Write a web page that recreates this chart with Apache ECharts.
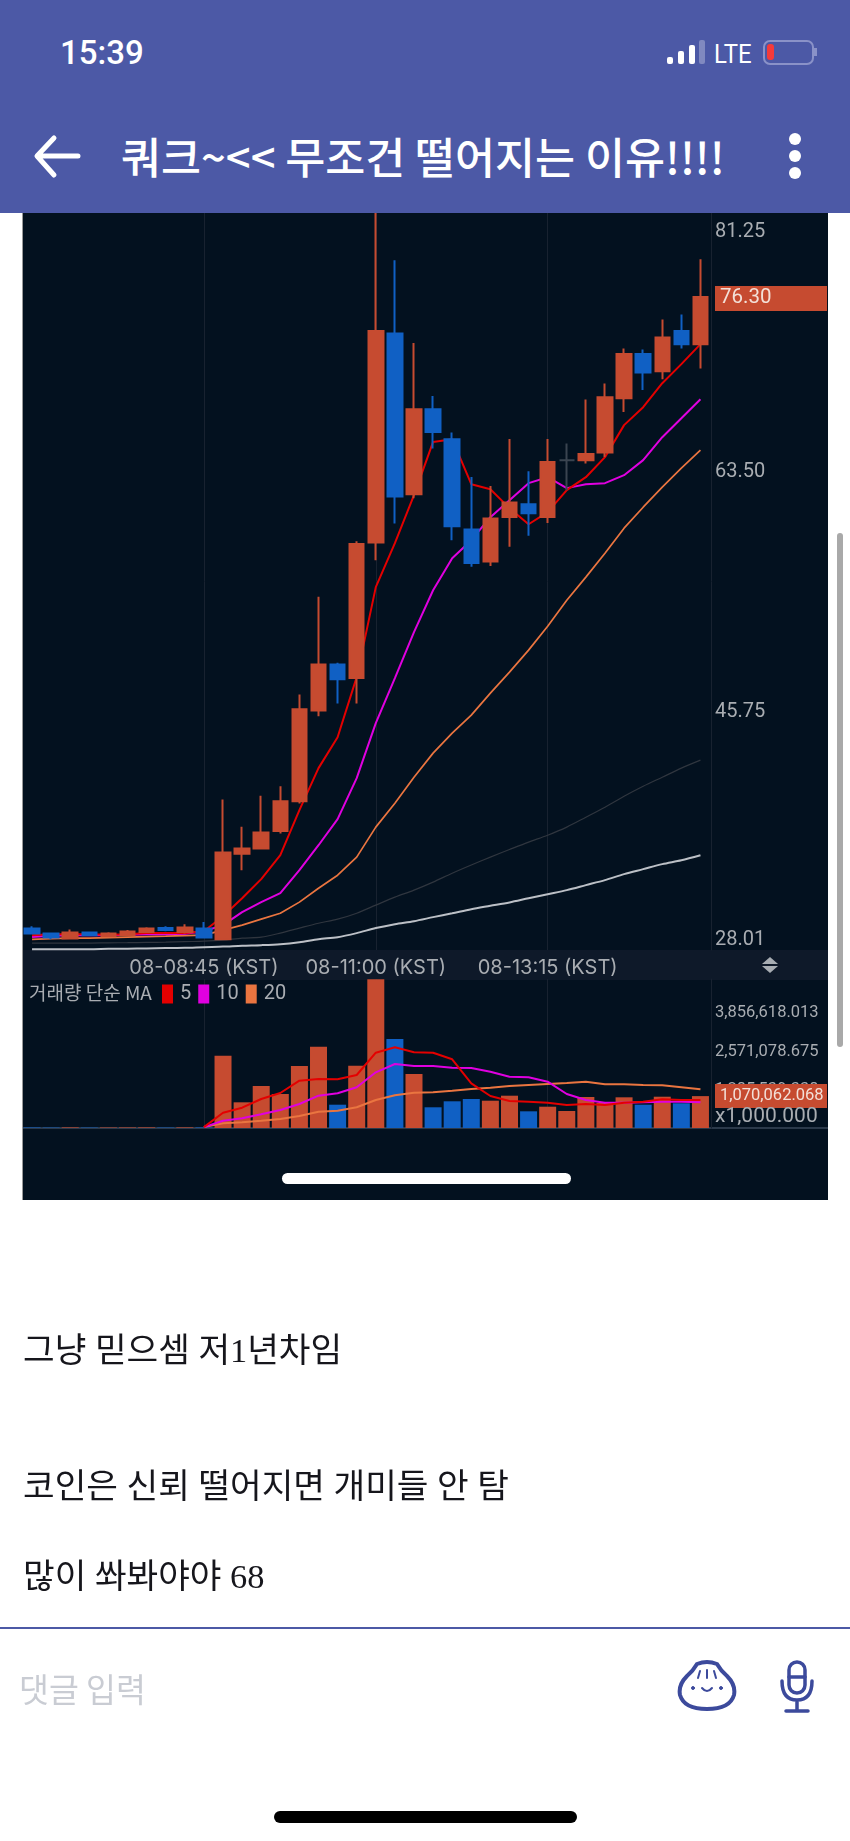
<!DOCTYPE html>
<html>
<head>
<meta charset="utf-8">
<script src="https://cdn.jsdelivr.net/npm/echarts@6/dist/echarts.min.js"></script>
<style>
html, body { margin: 0; padding: 0; background: #fff; }
#page { position: relative; width: 850px; height: 1841px; overflow: hidden; font-family: "Noto Sans CJK KR", sans-serif; }
#page div, #page svg { position: absolute; }
.t { white-space: nowrap; transform: translateY(-50%); }
.post { font-family: "Liberation Serif", "Noto Sans CJK KR", serif; left: 23px; font-size: 34.4px; color: #16161c; }
#container { left: 0; top: 0; width: 850px; height: 1841px; }
</style>
</head>
<body>
<div id="page">
	<div style="left:23px;top:205px;width:805px;height:995px;background:#03111f"></div>
	<div style="left:22px;top:205px;width:1px;height:995px;background:#9a9a9a"></div>
	<div style="left:23px;top:950px;width:805px;height:30px;background:#0e1929"></div>
	<div style="left:23px;top:1127px;width:805px;height:2px;background:#2b394a"></div>
	<div style="left:282px;top:1173px;width:289px;height:11px;border-radius:6px;background:#fff"></div>
	<div style="left:837px;top:533px;width:6px;height:514px;border-radius:3px;background:#a9a9a9"></div>

	<div id="container"></div>

	<svg style="left:760px;top:956px" width="20" height="18"><polygon points="2,8 10,1 18,8" fill="#a8adb3"/><polygon points="2,10 10,17 18,10" fill="#a8adb3"/></svg>

	<div style="left:0;top:0;width:850px;height:213px;background:#4c59a6"></div>
	<div class="t" style="left:60px;top:52px;font:500 33px Roboto;color:#fff">15:39</div>
	<div style="left:667px;top:57px;width:6px;height:7px;border-radius:2px;background:#fff"></div>
	<div style="left:678px;top:51px;width:6px;height:13px;border-radius:2px;background:#fff"></div>
	<div style="left:689px;top:45px;width:6px;height:19px;border-radius:2px;background:#fff"></div>
	<div style="left:699px;top:40px;width:6px;height:24px;border-radius:2px;background:#8089c0"></div>
	<div class="t" style="left:714px;top:54px;font:400 26px Roboto;color:#fff;transform:translateY(-50%) scaleX(.92);transform-origin:left">LTE</div>
	<div style="left:763px;top:40px;width:47px;height:21px;border:2px solid #8a92c8;border-radius:7px"></div>
	<div style="left:767px;top:44px;width:7px;height:16px;border-radius:3px;background:#f53a3a"></div>
	<div style="left:814px;top:48px;width:3px;height:8px;background:#8a92c8"></div>
	<svg style="left:30px;top:130px" width="56" height="52"><path d="M48 26 H8 M24 8 L7 26 L24 45" fill="none" stroke="#fff" stroke-width="5" stroke-linecap="round" stroke-linejoin="round"/></svg>
	<div class="t" style="left:121px;top:155px;font-size:43.5px;font-weight:500;color:#fff">쿼크~&lt;&lt; 무조건 떨어지는 이유!!!!</div>
	<div style="left:789px;top:133px;width:12px;height:12px;border-radius:6px;background:#fff"></div>
	<div style="left:789px;top:150px;width:12px;height:12px;border-radius:6px;background:#fff"></div>
	<div style="left:789px;top:167px;width:12px;height:12px;border-radius:6px;background:#fff"></div>

	<div class="t post" style="top:1347px">그냥 믿으셈 저1년차임</div>
	<div class="t post" style="top:1483px">코인은 신뢰 떨어지면 개미들 안 탐</div>
	<div class="t post" style="top:1573px">많이 쏴봐야야 68</div>

	<div style="left:0;top:1627px;width:850px;height:2px;background:#4c59a6"></div>
	<div class="t" style="left:19px;top:1687px;font-size:32.5px;color:#c9ccd3">댓글 입력</div>
	<svg style="left:675px;top:1659px" width="64" height="54" fill="none" stroke="#3c4a9c" stroke-width="4" stroke-linecap="round">
		<path d="M22 5 Q32 1 42 5 Q46 12 52 17 Q61 26 59 36 Q55 50 32 50 Q9 50 5 36 Q3 26 12 17 Q18 12 22 5 Z"/>
		<path stroke-width="2" d="M25 12 L23 19 M32 11 L32 19 M39 12 L41 19 M27 29 Q32 35 37 29"/>
		<circle cx="18" cy="29" r="1.5" fill="#3c4a9c" stroke-width="1"/><circle cx="46" cy="29" r="1.5" fill="#3c4a9c" stroke-width="1"/>
	</svg>
	<svg style="left:779px;top:1659px" width="36" height="56" fill="none" stroke="#3c4a9c" stroke-width="3.5" stroke-linecap="round">
		<rect x="10" y="3" width="16" height="31" rx="8"/><path d="M10 18 H26 M3 22 Q3 41 18 41 Q33 41 33 22 M18 41 V52 M7 52 H29"/>
	</svg>
	<div style="left:274px;top:1811px;width:303px;height:12px;border-radius:6px;background:#000"></div>
</div>
<script>
var categories = ['06:30','06:45','07:00','07:15','07:30','07:45','08:00','08:15','08:30','08:45','09:00','09:15',
	'09:30','09:45','10:00','10:15','10:30','10:45','11:00','11:15','11:30','11:45','12:00','12:15',
	'12:30','12:45','13:00','13:15','13:30','13:45','14:00','14:15','14:30','14:45','15:00','15:15'];
var tickLabels = ['08:45', '11:00', '13:15'];
var priceTicks = [28.01, 45.75, 63.50, 81.25];
var lastPrice = 76.30;
var volumeTicks = [1285539.338, 2571078.675, 3856618.013];
var lastVolume = 1070062.068;

// open, close, low, high
var candles = [
	[29.60,29.23,29.18,29.77],[29.23,28.94,28.81,29.28],[28.86,29.31,28.81,29.53],[29.31,29.11,29.03,29.35],
	[29.03,29.23,28.96,29.33],[29.11,29.38,29.03,29.48],[29.35,29.60,29.26,29.70],[29.63,29.48,29.40,29.77],
	[29.35,29.68,29.23,29.92],[29.60,28.94,28.94,30.09],[28.81,35.22,28.81,39.14],[35.12,35.52,33.91,37.12],
	[35.52,36.70,35.45,39.41],[36.82,39.02,36.63,40.13],[39.02,45.82,38.85,46.91],[45.73,49.13,45.30,54.13],
	[49.13,48.04,46.24,49.25],[48.12,58.03,46.24,58.25],[58.15,73.80,56.84,84.00],[73.61,61.55,59.56,79.03],
	[61.72,68.01,61.43,72.91],[68.01,66.33,65.10,68.99],[65.79,59.36,58.32,66.29],[59.11,56.64,56.35,63.00],
	[56.75,59.93,56.42,62.32],[60.04,61.11,57.83,65.81],[60.98,60.32,58.64,63.42],[60.04,64.11,59.60,65.81],
	[64.24,64.24,62.02,65.47],[64.24,64.70,63.99,68.73],[64.81,68.90,64.48,69.91],[68.82,72.10,67.81,72.50],
	[72.10,70.72,69.42,72.43],[70.82,73.31,70.23,74.64],[73.80,72.82,72.50,75.01],[72.82,76.30,71.02,79.10]
];
var ma5 = [29.11,29.18,29.18,29.18,29.14,29.18,29.26,29.26,29.26,29.40,30.51,31.84,33.25,35.02,38.35,41.46,43.75,48.19,
	54.85,58.10,61.65,65.59,65.79,62.46,62.09,60.69,59.50,60.39,62.02,62.98,64.46,66.83,68.16,69.93,71.34,72.82];
var ma10 = [28.98,29.07,29.11,29.11,29.11,29.14,29.18,29.18,29.22,29.40,29.85,30.81,31.55,32.21,33.91,35.76,37.69,40.72,
	44.79,48.12,51.52,54.62,56.99,58.32,60.02,61.28,62.54,62.98,62.17,62.46,62.54,63.13,64.24,65.94,67.34,68.75];
var ma20 = [28.79,28.85,28.89,28.89,28.92,28.96,29.00,29.03,29.07,29.11,29.48,29.85,30.29,30.73,31.55,32.58,33.54,34.88,
	37.10,38.87,40.79,42.57,44.05,45.38,47.01,48.56,50.19,51.96,53.88,55.59,57.36,59.21,60.76,62.24,63.65,64.98];
var ma60 = [28.52,28.52,28.52,28.52,28.54,28.55,28.57,28.59,28.63,28.66,28.74,28.89,28.96,29.26,29.63,29.99,30.29,30.73,
	31.33,31.92,32.44,33.03,33.69,34.30,34.88,35.44,35.99,36.50,37.10,37.83,38.57,39.38,40.12,40.79,41.46,42.05];
var ma120 = [28.07,28.07,28.07,28.07,28.10,28.11,28.12,28.15,28.17,28.22,28.26,28.33,28.37,28.44,28.59,28.81,28.96,29.26,
	29.63,29.92,30.14,30.44,30.73,31.03,31.28,31.53,31.84,32.14,32.44,32.81,33.18,33.62,33.99,34.36,34.65,35.02];

var volume = [18000,14000,20000,14000,16000,18000,20000,14000,20000,18000,2426000,862000,1409000,1141000,2080000,2728000,782000,2091000,
	4990000,2987000,1812000,695000,896000,973000,916000,1084000,560000,715000,570000,1040000,839000,1030000,782000,1050000,829000,1070062];
var volMa5 = [null,null,null,null,null,null,null,null,null,30000,513000,681000,973000,1174000,1587000,1644000,1634000,1779000,
	2527000,2708000,2540000,2527000,2305000,1500000,1074000,906000,883000,849000,772000,805000,772000,849000,883000,963000,940000,940000];
var volMa10 = [null,null,null,null,null,null,null,null,null,30000,245000,326000,460000,604000,805000,1084000,1164000,1366000,
	1869000,2148000,2081000,2081000,2024000,2013000,1889000,1721000,1701000,1554000,1141000,940000,849000,849000,862000,883000,883000,862000];
var volMa20 = [null,null,null,null,null,null,null,null,null,30000,158000,191000,245000,302000,403000,547000,581000,695000,
	940000,1097000,1185000,1198000,1252000,1309000,1352000,1409000,1443000,1477000,1510000,1554000,1466000,1466000,1443000,1433000,1366000,1299000];

var upColor = '#c64b30', downColor = '#1060c4', gridColor = '#182230', labelColor = '#a9adb2';
var red = '#e40000', magenta = '#e000e0', orange = '#ea7540';

function showTick(index, value) {
	return tickLabels.indexOf(value) >= 0;
}

function lineSeries(name, data, color, width, axis, smooth) {
	return {
		name: name, type: 'line', data: data, xAxisIndex: axis, yAxisIndex: axis,
		symbol: 'none', connectNulls: false, z: axis ? 4 : 2, smooth: smooth || false,
		lineStyle: {color: color, width: width}, itemStyle: {color: color}
	};
}

var myChart = echarts.init(document.getElementById('container'), null, {renderer: 'canvas'});
var option = {
	animation: false,
	title: {
		text: '거래량 단순 MA', left: 29, top: 983, padding: 0,
		textStyle: {color: labelColor, fontSize: 19, fontWeight: 400, fontFamily: 'Noto Sans CJK KR'}
	},
	legend: {
		data: ['5', '10', '20'], left: 162, top: 984, padding: 0, itemWidth: 11, itemHeight: 19, itemGap: 7, icon: 'rect',
		textStyle: {color: labelColor, fontSize: 20, fontFamily: 'Roboto', padding: [0, 0, 0, 2]}
	},
	grid: [
		{left: 22.5, top: 213, width: 687.5, height: 737},
		{left: 22.5, top: 979, width: 687.5, height: 149}
	],
	xAxis: [
		{
			type: 'category', gridIndex: 0, data: categories, boundaryGap: true,
			axisLine: {show: false}, axisTick: {show: false},
			axisLabel: {
				interval: showTick, margin: 8, color: labelColor, fontSize: 20, fontFamily: 'Inter',
				formatter: function (v) { return '08-' + v + ' (KST)'; }
			},
			splitLine: {show: true, interval: showTick, alignWithLabel: true, lineStyle: {color: gridColor, width: 1}}
		},
		{
			type: 'category', gridIndex: 1, data: categories, boundaryGap: true,
			axisLine: {show: false}, axisTick: {show: false}, axisLabel: {show: false},
			splitLine: {show: true, interval: showTick, alignWithLabel: true, lineStyle: {color: gridColor, width: 1}}
		}
	],
	yAxis: [
		{
			type: 'value', gridIndex: 0, position: 'right', min: 28.01, max: 82.52, offset: 1,
			axisLine: {show: true, lineStyle: {color: gridColor}}, axisTick: {show: false}, splitLine: {show: false},
			axisLabel: {
				customValues: priceTicks.concat([lastPrice]), margin: 4, color: labelColor, fontSize: 20, fontFamily: 'Roboto',
				verticalAlignMinLabel: 'bottom', padding: [3, 0, 0, 0],
				formatter: function (v) {
					return v === lastPrice ? '{cur|' + v.toFixed(2) + '}' : v.toFixed(2);
				},
				rich: {cur: {backgroundColor: upColor, color: '#f3e0d8', fontSize: 20.5, fontFamily: 'Roboto', width: 107, height: 20, padding: [2, 0, 3, 5]}}
			}
		},
		{
			type: 'value', gridIndex: 1, position: 'right', min: 0, max: 5000000, offset: 1,
			axisLine: {show: true, lineStyle: {color: gridColor}}, axisTick: {show: false}, splitLine: {show: false},
			axisLabel: {
				customValues: volumeTicks.concat([lastVolume]), margin: 4, color: labelColor, fontSize: 16.5, fontFamily: 'Roboto',
				formatter: function (v) {
					var s = v.toLocaleString('en-US', {minimumFractionDigits: 3, maximumFractionDigits: 3});
					return v === lastVolume ? '{cur|' + s + '}' : s;
				},
				rich: {cur: {backgroundColor: upColor, color: '#f3e0d8', fontSize: 16.5, fontFamily: 'Roboto', width: 107, height: 18, padding: [3, 0, 3, 5]}}
			}
		}
	],
	graphic: [
		{type: 'text', left: 715, top: 1106, z: 20, style: {text: 'x1,000.000', fill: labelColor, font: '400 21px Roboto'}}
	],
	series: [
		lineSeries('MA120', ma120, '#bcc0c6', 2, 0, 0.3),
		lineSeries('MA60', ma60, '#30363f', 1.2, 0, 0.3),
		lineSeries('MA20', ma20, orange, 1.7, 0),
		lineSeries('MA10', ma10, magenta, 2, 0),
		lineSeries('MA5', ma5, red, 2, 0),
		{
			name: 'price', type: 'candlestick', data: candles, xAxisIndex: 0, yAxisIndex: 0, barWidth: 15, z: 3,
			itemStyle: {color: upColor, color0: downColor, borderColor: upColor, borderColor0: downColor, borderColorDoji: '#3a4450', borderWidth: 2}
		},
		{
			name: 'volume', type: 'bar', xAxisIndex: 1, yAxisIndex: 1, barWidth: 17, z: 2,
			data: volume.map(function (v, i) {
				var up = candles[i][1] >= candles[i][0];
				return {value: v, itemStyle: {color: up ? upColor : downColor}};
			})
		},
		lineSeries('20', volMa20, orange, 2, 1),
		lineSeries('10', volMa10, magenta, 2, 1),
		lineSeries('5', volMa5, red, 2, 1)
	]
};
myChart.setOption(option, true);
</script>
</body>
</html>
